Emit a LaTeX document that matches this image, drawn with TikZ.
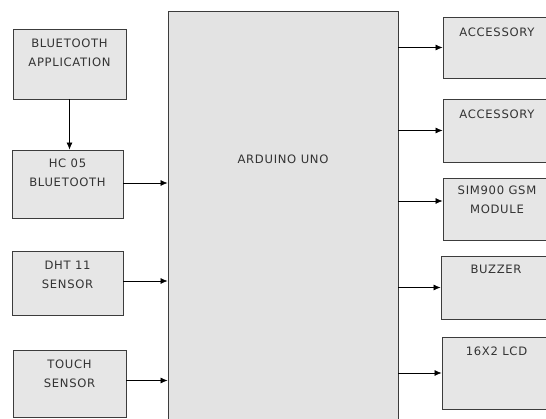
\documentclass[tikz,border=0pt]{standalone}
\usepackage{fontspec}
\setmainfont{DejaVu Sans}[LetterSpace=6]
\usetikzlibrary{arrows.meta,positioning}
\definecolor{boxgray}{HTML}{E6E6E6}
\definecolor{unogray}{HTML}{E3E3E3}
\definecolor{edgegray}{HTML}{3C3C3C}

\begin{document}
\begin{tikzpicture}[x=1pt,y=-1pt,>={Latex[length=7pt,width=6pt]},font=\fontsize{11.6}{19.5}\selectfont,
 box/.style={draw=edgegray,fill=boxgray,line width=.9pt,inner sep=0pt},
 uno/.style={box,fill=unogray},
 txt/.style={align=center,inner sep=0pt,text=black!80},
 arr/.style={->,line width=.7pt,black}]
\fill[white] (0,0) rectangle (546,419);
\clip (0,0) rectangle (546,419);
% inputs
\node[box,minimum width=113pt,minimum height=70pt] (app) at (69.5,64) {};
\node[box,minimum width=111pt,minimum height=68pt] (hc) at (67.5,184) {};
\node[box,minimum width=111pt,minimum height=64pt] (dht) at (67.5,283) {};
\node[box,minimum width=113pt,minimum height=67pt] (touch) at (69.5,383.5) {};
\node[txt,below=10pt of app.north] (apptxt) {BLUETOOTH\\APPLICATION};
\node[txt,below=9pt of hc.north] (hctxt) {HC 05\\BLUETOOTH};
\node[txt,below=10pt of dht.north] (dhttxt) {DHT 11\\SENSOR};
\node[txt,below=10pt of touch.north] (touchtxt) {TOUCH\\SENSOR};
% controller
\node[uno,minimum width=230pt,minimum height=420pt] (ard) at (283,221) {};
\node[txt,below=144pt of ard.north] (ardtxt) {ARDUINO UNO};
% outputs
\node[box,minimum width=108pt,minimum height=61pt] (acc1) at (497,47.5) {};
\node[box,minimum width=108pt,minimum height=63pt] (acc2) at (497,130.5) {};
\node[box,minimum width=108pt,minimum height=62pt] (sim) at (497,209) {};
\node[box,minimum width=110pt,minimum height=63pt] (buzz) at (496,287.5) {};
\node[box,minimum width=109pt,minimum height=72pt] (lcd) at (496.5,373) {};
\node[txt,below=11pt of acc1.north] (acc1txt) {ACCESSORY};
\node[txt,below=11pt of acc2.north] (acc2txt) {ACCESSORY};
\node[txt,below=8pt of sim.north] (simtxt) {SIM900 GSM\\MODULE};
\node[txt,below=9pt of buzz.north] (buzztxt) {BUZZER};
\node[txt,below=10pt of lcd.north] (lcdtxt) {16X2 LCD};
% links
\draw[arr] (app.south) -- (app.south |- hc.north);
\draw[arr] ([yshift=1pt]hc.east) -- ([yshift=1pt]hc.east -| ard.west);
\draw[arr] ([yshift=2pt]dht.east) -- ([yshift=2pt]dht.east -| ard.west);
\draw[arr] ([yshift=3pt]touch.east) -- ([yshift=3pt]touch.east -| ard.west);
\draw[arr] (acc1.west -| ard.east) -- (acc1.west);
\draw[arr] (acc2.west -| ard.east) -- (acc2.west);
\draw[arr] ([yshift=8pt]sim.west -| ard.east) -- ([yshift=8pt]sim.west);
\draw[arr] (buzz.west -| ard.east) -- (buzz.west);
\draw[arr] (lcd.west -| ard.east) -- (lcd.west);
\end{tikzpicture}
\end{document}
